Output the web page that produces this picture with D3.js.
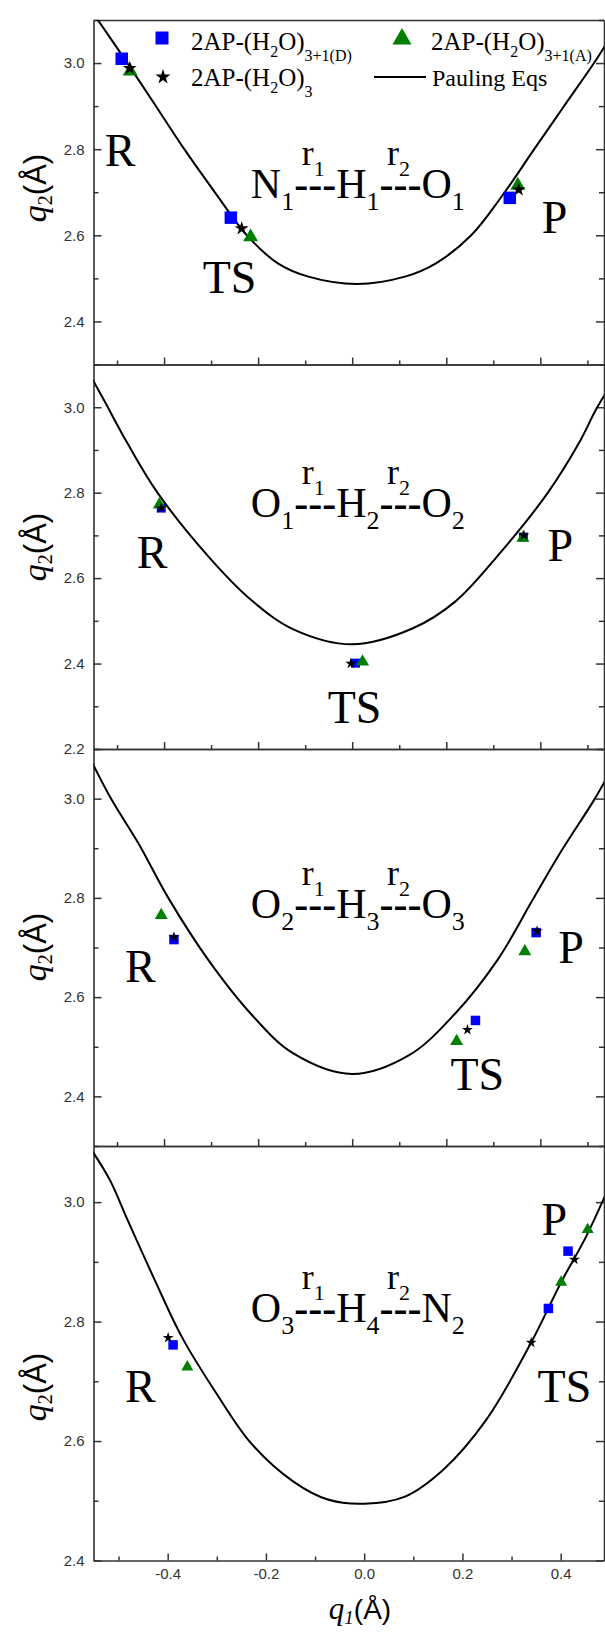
<!DOCTYPE html>
<html>
<head>
<meta charset="utf-8">
<script src="https://cdn.jsdelivr.net/npm/d3@7"></script>
<style>
  html, body { margin: 0; padding: 0; background: #fff; }
  svg { display: block; }
</style>
</head>
<body>
<svg id="chart" width="605" height="1632"></svg>
<script>
(function() {

  // ---- data, one row per panel (q1, q2 in Å) ----
  // Pauling curve
  const curveQ1 = [
    [-0.548, -0.540, -0.478, -0.421, -0.357, -0.290, -0.224, -0.158, -0.093, 0.010, 0.112, 0.178, 0.253, 0.317, 0.387, 0.449, 0.514, 0.540],
    [-0.552, -0.527, -0.478, -0.414, -0.306, -0.216, -0.125, 0.000, 0.128, 0.219, 0.306, 0.416, 0.482, 0.518, 0.540],
    [-0.552, -0.511, -0.454, -0.391, -0.306, -0.216, -0.126, 0.000, 0.121, 0.219, 0.309, 0.383, 0.441, 0.514, 0.540],
    [-0.553, -0.517, -0.481, -0.426, -0.371, -0.301, -0.230, -0.144, -0.074, 0.000, 0.083, 0.161, 0.248, 0.340, 0.401, 0.451, 0.490],
  ];
  const curveQ2 = [
    [3.112, 3.099, 3.000, 2.906, 2.800, 2.697, 2.600, 2.535, 2.504, 2.487, 2.504, 2.535, 2.600, 2.689, 2.800, 2.898, 3.000, 3.045],
    [3.065, 3.015, 2.916, 2.800, 2.651, 2.550, 2.480, 2.445, 2.482, 2.545, 2.648, 2.800, 2.916, 2.994, 3.035],
    [3.071, 2.997, 2.909, 2.800, 2.675, 2.567, 2.487, 2.445, 2.483, 2.567, 2.675, 2.795, 2.889, 2.997, 3.040],
    [3.085, 3.036, 2.969, 2.869, 2.774, 2.680, 2.596, 2.532, 2.502, 2.495, 2.507, 2.552, 2.635, 2.765, 2.866, 2.941, 3.010],
  ];

  // points in order R, TS, P
  const sqQ1   = [[-0.490, -0.258, 0.335], [-0.406, 0.007, 0.364], [-0.379, 0.262, 0.391], [-0.389, 0.375, 0.415]];
  const sqQ2   = [[3.010, 2.641, 2.687], [2.764, 2.401, 2.696], [2.716, 2.553, 2.730], [2.761, 2.822, 2.918]];
  const triQ1  = [[-0.472, -0.216, 0.352], [-0.410, 0.022, 0.363], [-0.406, 0.222, 0.367], [-0.360, 0.401, 0.455]];
  const triQ2  = [[2.981, 2.596, 2.716], [2.772, 2.404, 2.694], [2.765, 2.511, 2.692], [2.724, 2.866, 2.954]];
  const starQ1 = [[-0.473, -0.235, 0.354], [-0.406, -0.003, 0.365], [-0.379, 0.245, 0.393], [-0.399, 0.340, 0.428]];
  const starQ2 = [[2.988, 2.616, 2.706], [2.764, 2.400, 2.700], [2.721, 2.534, 2.733], [2.773, 2.765, 2.904]];

  const stateNames = ["R", "TS", "P"];
  const formulas = [
    ["N", "1", "H", "1", "O", "1"],
    ["O", "1", "H", "2", "O", "2"],
    ["O", "2", "H", "3", "O", "3"],
    ["O", "3", "H", "4", "N", "2"],
  ];
  const xTicks = [-0.4, -0.2, 0.0, 0.2, 0.4];
  const xTickLabels = ["-0.4", "-0.2", "0.0", "0.2", "0.4"];
  const yTicks = [[2.4, 2.6, 2.8, 3.0], [2.2, 2.4, 2.6, 2.8, 3.0], [2.4, 2.6, 2.8, 3.0], [2.4, 2.6, 2.8, 3.0]];

  // legend text split into [main, sub, main, sub]
  const seriesLabels = [
    ["2AP-(H", "2", "O)", "3+1(D)"],
    ["2AP-(H", "2", "O)", "3+1(A)"],
    ["2AP-(H", "2", "O)", "3"],
  ];

  // ---- layout ----
  const LEFT = 93.5, RIGHT = 604;
  const panels = [
    { top: 20,    bottom: 364.5,  xDom: [-0.55, 0.5353],  yDom: [2.3, 3.1],   titleY: 188 },
    { top: 364.5, bottom: 749,    xDom: [-0.55, 0.5353],  yDom: [2.2, 3.1],   titleY: 547 },
    { top: 749,   bottom: 1146,   xDom: [-0.55, 0.5353],  yDom: [2.3, 3.1],   titleY: 947 },
    { top: 1146,  bottom: 1560.5, xDom: [-0.551, 0.4882], yDom: [2.4, 3.094], titleY: 1387 },
  ];
  // where the R / TS / P letters and the bond formula sit, in data units
  const labelAt = [
    { q1: [-0.526, -0.318, 0.403], q2: [2.761, 2.466, 2.605], fq1: -0.2155, fq2: 2.686 },
    { q1: [-0.458, -0.052, 0.415], q2: [2.624, 2.261, 2.640], fq1: -0.2155, fq2: 2.744 },
    { q1: [-0.483, 0.209, 0.438],  q2: [2.631, 2.413, 2.669], fq1: -0.2155, fq2: 2.759 },
    { q1: [-0.487, 0.353, 0.361],  q2: [2.666, 2.666, 2.945], fq1: -0.2307, fq2: 2.800 },
  ];
  const markerPx = [
    { sq: 12.5, tri: 15, star: 14 },
    { sq: 9,    tri: 13, star: 11 },
    { sq: 9.5,  tri: 13, star: 11 },
    { sq: 9.5,  tri: 12, star: 11 },
  ];

  const BLUE = "#0000ff", GREEN = "#008000", INK = "#000";
  const AXIS = "#333";
  const SERIF = "'Liberation Serif', 'Times New Roman', serif";
  const SANS = "'Liberation Sans', Arial, sans-serif";

  const sqSize = w => w * w;
  const triSize = w => Math.sqrt(3) / 4 * w * w;
  const starSize = w => Math.pow(w / 1.902, 2) / 0.8908130915;

  const svg = d3.select("#chart");
  svg.append("rect").attr("width", 605).attr("height", 1632).attr("fill", "#fff");
  const defs = svg.append("defs");

  const round1 = v => Math.round(v * 10) / 10;

  panels.forEach((p, i) => {
    const x = d3.scaleLinear().domain(p.xDom).range([LEFT, RIGHT]);
    const y = d3.scaleLinear().domain(p.yDom).range([p.bottom, p.top]);
    const g = svg.append("g").attr("class", `panel-${i}`);

    defs.append("clipPath").attr("id", `clip-${i}`)
      .append("rect")
      .attr("x", LEFT).attr("y", p.top)
      .attr("width", RIGHT - LEFT).attr("height", p.bottom - p.top);

    // minor ticks every 0.1
    const yMinor = d3.range(20, 32).map(v => v / 10)
      .filter(v => v >= p.yDom[0] - 1e-6 && v <= p.yDom[1] + 1e-6 && !yTicks[i].includes(round1(v)));
    const xMinor = [-0.5, -0.3, -0.1, 0.1, 0.3, 0.5].filter(v => v >= p.xDom[0] && v <= p.xDom[1]);

    // left axis
    g.append("g").attr("transform", `translate(${LEFT},0)`)
      .call(d3.axisLeft(y).tickValues(yTicks[i]).tickSize(-8).tickSizeOuter(0).tickPadding(9)
        .tickFormat(d3.format(".1f")));
    g.append("g").attr("transform", `translate(${LEFT},0)`)
      .call(d3.axisLeft(y).tickValues(yMinor).tickSize(-5).tickFormat(""))
      .call(a => a.select(".domain").remove());

    // right axis mirror
    g.append("g").attr("transform", `translate(${RIGHT},0)`)
      .call(d3.axisRight(y).tickValues(yTicks[i]).tickSize(-8).tickSizeOuter(0).tickFormat(""));
    g.append("g").attr("transform", `translate(${RIGHT},0)`)
      .call(d3.axisRight(y).tickValues(yMinor).tickSize(-5).tickFormat(""))
      .call(a => a.select(".domain").remove());

    // bottom axis
    const showX = i === panels.length - 1;
    g.append("g").attr("transform", `translate(0,${p.bottom})`)
      .call(d3.axisBottom(x).tickValues(xTicks).tickSize(-7).tickSizeOuter(0).tickPadding(8)
        .tickFormat((d, k) => showX ? xTickLabels[k] : ""));
    g.append("g").attr("transform", `translate(0,${p.bottom})`)
      .call(d3.axisBottom(x).tickValues(xMinor).tickSize(-4).tickFormat(""))
      .call(a => a.select(".domain").remove());

    // top border
    g.append("g").attr("transform", `translate(0,${p.top})`)
      .call(d3.axisTop(x).tickValues([]).tickSizeOuter(0));

    g.selectAll(".domain").attr("stroke", AXIS).attr("stroke-width", 1.6);
    g.selectAll(".tick line").attr("stroke", AXIS).attr("stroke-width", 1.5);
    g.selectAll(".tick text")
      .attr("font-family", SANS).attr("font-size", 15).attr("fill", AXIS);

    // y title
    const yt = g.append("text")
      .attr("transform", `translate(46,${p.titleY}) rotate(-90)`)
      .attr("text-anchor", "middle")
      .attr("fill", INK);
    yt.append("tspan").attr("font-family", SERIF).attr("font-style", "italic").attr("font-size", 34).text("q");
    yt.append("tspan").attr("font-family", SERIF).attr("font-size", 20).attr("dy", 6).text("2");
    yt.append("tspan").attr("font-family", SANS).attr("font-size", 31).attr("dy", -6).text("(Å)");

    // Pauling curve
    const pts = curveQ1[i].map((q, k) => [q, curveQ2[i][k]]);
    const line = d3.line().x(d => x(d[0])).y(d => y(d[1])).curve(d3.curveCatmullRom.alpha(0.5));
    g.append("path")
      .attr("clip-path", `url(#clip-${i})`)
      .attr("d", line(pts))
      .attr("fill", "none")
      .attr("stroke", INK)
      .attr("stroke-width", 2);

    // points
    const m = markerPx[i];
    const drawPts = (q1s, q2s, type, size, color) => {
      g.selectAll(null)
        .data(q1s.map((q, k) => [q, q2s[k]]))
        .join("path")
        .attr("transform", d => `translate(${x(d[0])},${y(d[1])})`)
        .attr("d", d3.symbol().type(type).size(size))
        .attr("fill", color);
    };
    drawPts(sqQ1[i], sqQ2[i], d3.symbolSquare, sqSize(m.sq), BLUE);
    drawPts(triQ1[i], triQ2[i], d3.symbolTriangle, triSize(m.tri), GREEN);
    drawPts(starQ1[i], starQ2[i], d3.symbolStar, starSize(m.star), INK);

    // R / TS / P
    const la = labelAt[i];
    stateNames.forEach((name, k) => {
      g.append("text")
        .attr("x", x(la.q1[k])).attr("y", y(la.q2[k]))
        .attr("font-family", SERIF).attr("font-size", 46)
        .attr("fill", INK)
        .text(name);
    });

    // bond formula: A1---H1---B1 with r1 / r2 over the dashes
    const f = formulas[i];
    const fx = x(la.fq1), fy = y(la.fq2);
    const ft = g.append("text")
      .attr("x", fx).attr("y", fy)
      .attr("font-family", SERIF).attr("fill", INK);
    for (let a = 0; a < 3; a++) {
      ft.append("tspan").attr("font-size", 42).attr("dy", a === 0 ? 0 : null).text(f[a * 2]);
      ft.append("tspan").attr("font-size", 26).attr("dy", 12).text(f[a * 2 + 1]);
      if (a < 2) {
        ft.append("tspan").attr("font-size", 42).attr("font-weight", "bold").attr("dy", -12).text("---");
      }
    }

    const node = ft.node();
    [2, 7].forEach((start, r) => {
      const x0 = node.getStartPositionOfChar(start).x;
      const x1 = node.getEndPositionOfChar(start + 2).x;
      const rt = g.append("text")
        .attr("x", (x0 + x1) / 2 - 2).attr("y", fy - 33)
        .attr("text-anchor", "middle")
        .attr("font-family", SERIF).attr("fill", INK);
      rt.append("tspan").attr("font-size", 36).text("r");
      rt.append("tspan").attr("font-size", 22).attr("dy", 11).text(String(r + 1));
    });
  });

  // x title
  const xt = svg.append("text")
    .attr("x", 360).attr("y", 1619)
    .attr("text-anchor", "middle").attr("fill", INK);
  xt.append("tspan").attr("font-family", SERIF).attr("font-style", "italic").attr("font-size", 31).text("q");
  xt.append("tspan").attr("font-family", SERIF).attr("font-style", "italic").attr("font-size", 19).attr("dy", 5).text("1");
  xt.append("tspan").attr("font-family", SANS).attr("font-size", 28).attr("dy", -5).text("(Å)");

  // legend
  const lg = svg.append("g").attr("class", "legend");
  const legendItems = [
    { sym: d3.symbolSquare,   size: sqSize(13),   color: BLUE,  mx: 162, my: 38, tx: 191, ty: 50, label: seriesLabels[0] },
    { sym: d3.symbolTriangle, size: triSize(19),  color: GREEN, mx: 402, my: 39, tx: 431, ty: 50, label: seriesLabels[1] },
    { sym: d3.symbolStar,     size: starSize(15), color: INK,   mx: 163, my: 77, tx: 191, ty: 86, label: seriesLabels[2] },
  ];
  legendItems.forEach(it => {
    lg.append("path")
      .attr("transform", `translate(${it.mx},${it.my})`)
      .attr("d", d3.symbol().type(it.sym).size(it.size))
      .attr("fill", it.color);
    const t = lg.append("text").attr("x", it.tx).attr("y", it.ty)
      .attr("font-family", SERIF).attr("fill", INK);
    t.append("tspan").attr("font-size", 25).text(it.label[0]);
    t.append("tspan").attr("font-size", 16).attr("dy", 7).text(it.label[1]);
    t.append("tspan").attr("font-size", 25).attr("dy", -7).text(it.label[2]);
    t.append("tspan").attr("font-size", 16).attr("dy", 11).text(it.label[3]);
  });
  lg.append("line")
    .attr("x1", 374).attr("x2", 426).attr("y1", 77).attr("y2", 77)
    .attr("stroke", INK).attr("stroke-width", 2);
  lg.append("text").attr("x", 432).attr("y", 86)
    .attr("font-family", SERIF).attr("font-size", 24).attr("fill", INK)
    .text("Pauling Eqs");

})();
</script>
</body>
</html>
